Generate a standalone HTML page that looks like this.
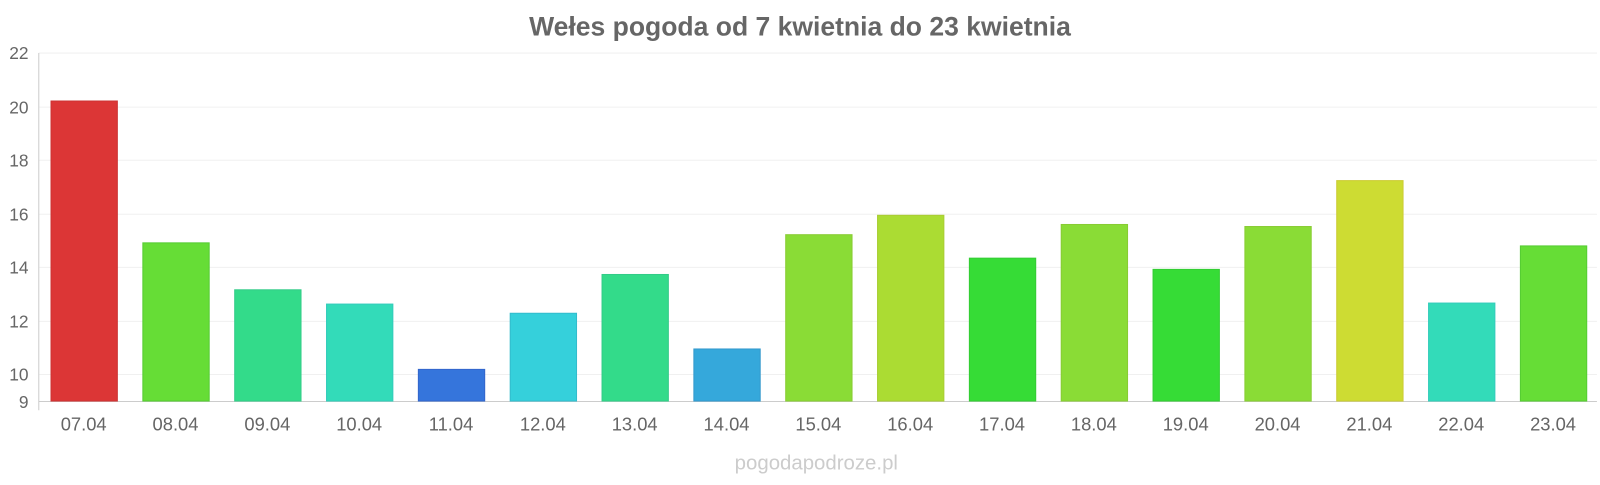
<!DOCTYPE html>
<html><head><meta charset="utf-8"><style>
body{margin:0;background:#fff;}
svg text{font-family:"Liberation Sans",sans-serif;}
</style></head><body>
<svg width="1600" height="480" xmlns="http://www.w3.org/2000/svg">
<rect width="1600" height="480" fill="#fff"/>
<g transform="scale(1.0204)">
<text x="784" y="35" text-anchor="middle" font-size="26" font-weight="bold" fill="#666">Wełes pogoda od 7 kwietnia do 23 kwietnia</text>
<g stroke="#f0f0f0" stroke-width="1">
<line x1="38" x2="1565" y1="52" y2="52"/><line x1="38" x2="1565" y1="105" y2="105"/>
<line x1="38" x2="1565" y1="157" y2="157"/><line x1="38" x2="1565" y1="210" y2="210"/>
<line x1="38" x2="1565" y1="262" y2="262"/><line x1="38" x2="1565" y1="315" y2="315"/>
<line x1="38" x2="1565" y1="367" y2="367"/>
</g>
<line x1="38" x2="38" y1="52" y2="402" stroke="#ccc"/>
<line x1="38" x2="1565" y1="393.5" y2="393.5" stroke="#ccc"/>
<g font-size="17" fill="#666" text-anchor="end">
<text x="28" y="58">22</text><text x="28" y="111">20</text><text x="28" y="163">18</text>
<text x="28" y="216">16</text><text x="28" y="268">14</text><text x="28" y="321">12</text>
<text x="28" y="373">10</text><text x="28" y="400">9</text>
</g>
<g stroke-width="1">
<rect x="50" y="99" width="65" height="294" fill="#dc3636" stroke="#c33"/>
<rect x="140" y="238" width="65" height="155" fill="#66dd36" stroke="#5c3"/>
<rect x="230" y="284" width="65" height="109" fill="#33db8a" stroke="#3c8"/>
<rect x="320" y="298" width="65" height="95" fill="#33dbb9" stroke="#3cb"/>
<rect x="410" y="362" width="65" height="31" fill="#3575dc" stroke="#36c"/>
<rect x="500" y="307" width="65" height="86" fill="#35d0db" stroke="#3bc"/>
<rect x="590" y="269" width="65" height="124" fill="#33db8a" stroke="#3c8"/>
<rect x="680" y="342" width="65" height="51" fill="#35a8db" stroke="#39c"/>
<rect x="770" y="230" width="65" height="163" fill="#8adc36" stroke="#8c3"/>
<rect x="860" y="211" width="65" height="182" fill="#abdc33" stroke="#ac3"/>
<rect x="950" y="253" width="65" height="140" fill="#36dc36" stroke="#3c3"/>
<rect x="1040" y="220" width="65" height="173" fill="#8adc36" stroke="#8c3"/>
<rect x="1130" y="264" width="65" height="129" fill="#36dc36" stroke="#3c3"/>
<rect x="1220" y="222" width="65" height="171" fill="#8adc36" stroke="#8c3"/>
<rect x="1310" y="177" width="65" height="216" fill="#cddc33" stroke="#cc3"/>
<rect x="1400" y="297" width="65" height="96" fill="#33dbb9" stroke="#3cb"/>
<rect x="1490" y="241" width="65" height="152" fill="#66dd36" stroke="#5c3"/>
</g>
<g font-size="18" fill="#666" text-anchor="middle">
<text x="82" y="422">07.04</text><text x="172" y="422">08.04</text><text x="262" y="422">09.04</text>
<text x="352" y="422">10.04</text><text x="442" y="422">11.04</text><text x="532" y="422">12.04</text>
<text x="622" y="422">13.04</text><text x="712" y="422">14.04</text><text x="802" y="422">15.04</text>
<text x="892" y="422">16.04</text><text x="982" y="422">17.04</text><text x="1072" y="422">18.04</text>
<text x="1162" y="422">19.04</text><text x="1252" y="422">20.04</text><text x="1342" y="422">21.04</text>
<text x="1432" y="422">22.04</text><text x="1522" y="422">23.04</text>
</g>
<text x="800" y="460" text-anchor="middle" font-size="20" fill="#ccc">pogodapodroze.pl</text>
</g>
</svg>
</body></html>
